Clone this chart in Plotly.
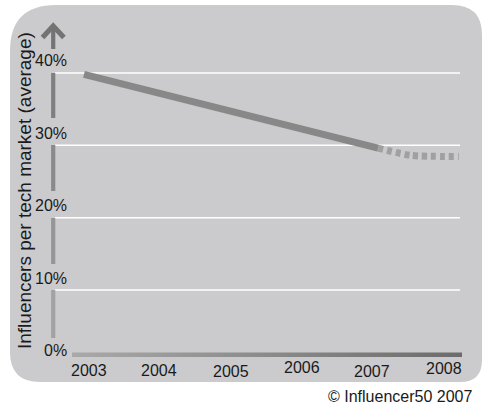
import plotly.graph_objects as go

# ---------------- data ----------------
years_actual = [2003, 2007]
share_actual = [39.8, 29.6]
years_forecast = [2007, 2007.45, 2008.1]
share_forecast = [29.6, 28.6, 28.45]

year_ticks = [2003, 2004, 2005, 2006, 2007, 2008]
year_labels = ["2003", "2004", "2005", "2006", "2007", "2008"]
pct_ticks = [0, 10, 20, 30, 40]
pct_labels = ["0%", "10%", "20%", "30%", "40%"]

y_title = "Influencers per tech market (average)"
credit = "© Influencer50 2007"

# ---------------- style / calibration ----------------
W, H = 482, 405
X0_PX, PX_PER_YEAR = 84, 73.5
Y0_PX, PX_PER_PCT = 362.5, 7.24
x_range = [2003 - X0_PX / PX_PER_YEAR, 2003 + (W - X0_PX) / PX_PER_YEAR]
y_range = [(Y0_PX - H) / PX_PER_PCT, Y0_PX / PX_PER_PCT]

FONT = "Liberation Sans, Arial, Helvetica, sans-serif"
TXT = "#1a1a1a"
PANEL = "#cbcbcd"

label_xshift = [5, 1.5, 0, -2.5, -6, -7.5]
label_yshift = [0, 0, -1, 3, -1, 2]


def px(x):
    return x / W


def py(y):
    return 1 - y / H


def dx(x):  # pixel -> data x
    return 2003 + (x - X0_PX) / PX_PER_YEAR


def dy(y):  # pixel -> data y
    return (Y0_PX - y) / PX_PER_PCT


def p(x, y):
    return f"{px(x):.5f},{py(y):.5f}"


# rounded panel
Lp, Tp, Rp, Bp = 10, 5, 482, 382
rtl, rtr, rbr, rbl = 46, 30, 22, 30
panel_path = (
    f"M {p(Lp + rtl, Tp)} L {p(Rp - rtr, Tp)} Q {p(Rp, Tp)} {p(Rp, Tp + rtr)} "
    f"L {p(Rp, Bp - rbr)} Q {p(Rp, Bp)} {p(Rp - rbr, Bp)} "
    f"L {p(Lp + rbl, Bp)} Q {p(Lp, Bp)} {p(Lp, Bp - rbl)} "
    f"L {p(Lp, Tp + rtl)} Q {p(Lp, Tp)} {p(Lp + rtl, Tp)} Z"
)

shapes = [dict(type="path", path=panel_path, xref="paper", yref="paper",
               fillcolor=PANEL, line=dict(width=0), layer="below")]

# white gridlines
for v in pct_ticks[1:]:
    shapes.append(dict(type="line", xref="paper", yref="y", x0=px(55), x1=px(460),
                       y0=v, y1=v, line=dict(color="white", width=1.5), layer="below"))

# vertical axis segments (broken by labels), darker to the top
seg = [(29, 49, "#747474"), (73, 118, "#7f7f7f"), (145, 191, "#8a8a8a"),
       (218, 264, "#969696"), (290, 338, "#a2a2a2")]
for y0, y1, c in seg:
    shapes.append(dict(type="line", xref="paper", yref="paper", x0=px(53.2), x1=px(53.2),
                       y0=py(y0), y1=py(y1), line=dict(color=c, width=4.2), layer="below"))
# arrow head
shapes.append(dict(type="path", xref="paper", yref="paper",
                   path=f"M {p(42.5, 37.5)} L {p(53.2, 26)} L {p(63.9, 37.5)}",
                   line=dict(color="#737373", width=5), layer="below"))

fig = go.Figure()

# horizontal axis bar with gradient
bx0, bx1, by0, by1 = 72, 462, 352.5, 357
fig.add_trace(go.Scatter(
    x=[dx(bx0), dx(bx1), dx(bx1), dx(bx0), dx(bx0)],
    y=[dy(by0), dy(by0), dy(by1), dy(by1), dy(by0)],
    mode="lines", fill="toself", line=dict(width=0),
    fillgradient=dict(type="horizontal",
                      colorscale=[[0, "#a9a9a9"], [1, "#6c6c6c"]]),
    hoverinfo="skip", showlegend=False))

fig.add_trace(go.Scatter(
    x=years_forecast, y=share_forecast, mode="lines",
    line=dict(color="#a0a0a0", width=7, dash="5px,4px", shape="spline", smoothing=0.6),
    hoverinfo="skip", showlegend=False))

fig.add_trace(go.Scatter(
    x=years_actual, y=share_actual, mode="lines",
    line=dict(color="#888888", width=7),
    hoverinfo="skip", showlegend=False))

annotations = []
for yr, lab, xs, ys in zip(year_ticks, year_labels, label_xshift, label_yshift):
    annotations.append(dict(x=yr, y=py(370), xref="x", yref="paper", text=lab,
                            showarrow=False, xanchor="center", yanchor="middle",
                            xshift=xs, yshift=ys,
                            font=dict(family=FONT, size=16, color=TXT)))
for v, lab in zip(pct_ticks, pct_labels):
    annotations.append(dict(x=px(69), y=v, xref="paper", yref="y", text=lab,
                            showarrow=False, xanchor="right", yanchor="middle",
                            yshift=12, font=dict(family=FONT, size=16, color=TXT)))
annotations.append(dict(x=px(24), y=py(191), xref="paper", yref="paper", text=y_title,
                        textangle=-90, showarrow=False, xanchor="center", yanchor="middle",
                        font=dict(family=FONT, size=19, color=TXT)))
annotations.append(dict(x=px(474), y=py(396), xref="paper", yref="paper", text=credit,
                        showarrow=False, xanchor="right", yanchor="middle",
                        font=dict(family=FONT, size=16, color=TXT)))

fig.update_layout(
    width=W, height=H, margin=dict(l=0, r=0, t=0, b=0),
    paper_bgcolor="white", plot_bgcolor="white",
    xaxis=dict(range=x_range, visible=False, fixedrange=True),
    yaxis=dict(range=y_range, visible=False, fixedrange=True),
    shapes=shapes, annotations=annotations, showlegend=False,
)

fig.write_html("out.html")
